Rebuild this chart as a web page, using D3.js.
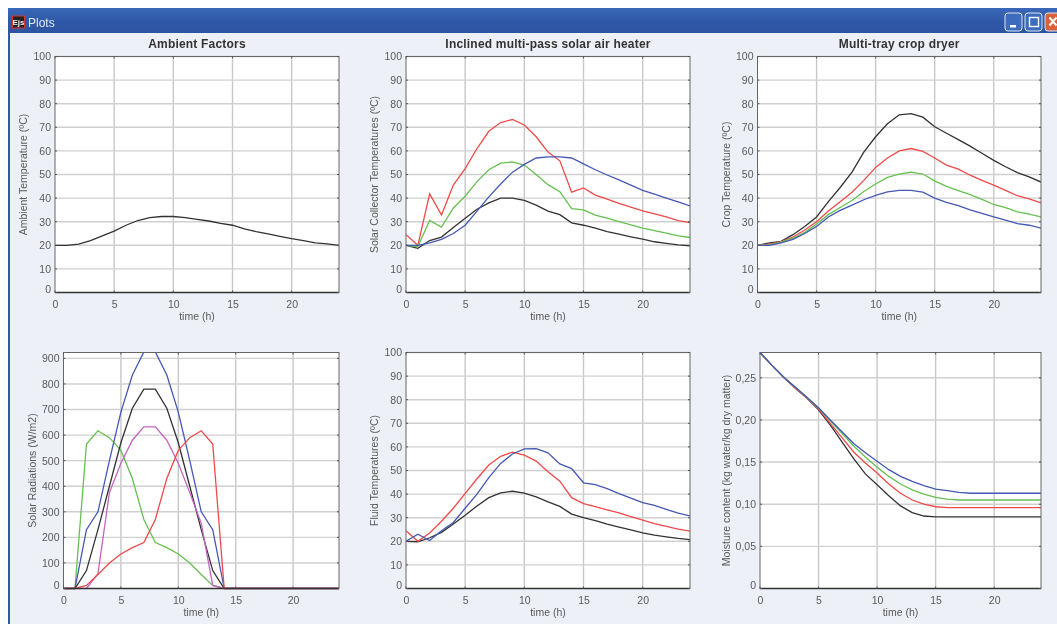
<!DOCTYPE html>
<html>
<head>
<meta charset="utf-8">
<title>Plots</title>
<script src="https://cdn.jsdelivr.net/npm/d3@7"></script>
<style>
  html, body { margin: 0; padding: 0; background: #fff; overflow: hidden; }
  text { font-family: "Liberation Sans", Arial, sans-serif; }
  .tick text, .ylabel, .xlabel { font-size: 10.5px; fill: #5a5a5a; }
  .title { font-size: 12px; font-weight: bold; fill: #333; letter-spacing: 0.2px; }
</style>
</head>
<body>
<svg id="chart" width="1057" height="624"></svg>
<script>
const hours = d3.range(0, 25);
const tempTicks = d3.range(0, 101, 10);
const hourTicks = [0, 5, 10, 15, 20];
const radiationTicks = d3.range(0, 901, 100);
const moistureTicks = [0, 0.05, 0.1, 0.15, 0.2, 0.25];

const ambient = [20, 20, 20.5, 22, 24, 26, 28.5, 30.5, 31.7, 32.2, 32.2, 31.7, 31, 30.3, 29.3, 28.5, 27, 25.8, 24.8, 23.8, 22.8, 22, 21, 20.6, 20];

const collectorRed = [24.5, 20, 41.8, 32.8, 45.5, 52.5, 61, 68.3, 72, 73.3, 71, 66, 59.5, 55.8, 42.5, 44.3, 41.3, 39.6, 37.8, 36.2, 34.6, 33.3, 32, 30.5, 29.6];
const collectorGreen = [20, 19.5, 30.5, 27.7, 35.8, 40.8, 47, 52, 54.8, 55.3, 54, 50, 45.7, 42.7, 35.5, 35, 32.8, 31.5, 30, 28.7, 27.3, 26.2, 25.2, 24, 23.3];
const collectorBlue = [20, 20, 21, 22.5, 25, 28.5, 34.5, 40.5, 46, 51, 54.3, 57, 57.5, 57.5, 57, 54.5, 52, 49.8, 47.7, 45.5, 43.3, 41.7, 40, 38.4, 36.7];
const collectorBlack = [20, 18.7, 22, 23.5, 27.5, 31.5, 35.3, 38, 40, 40, 39, 37, 34.5, 33, 29.5, 28.5, 27.3, 25.8, 24.7, 23.6, 22.6, 21.5, 20.8, 20.2, 19.8];

const cropBlack = [20, 21, 21.7, 24.5, 28, 32, 38.5, 44.5, 51, 59.5, 66, 71.5, 75.3, 75.8, 74.3, 70.2, 67.5, 64.8, 62, 59, 56, 53.3, 50.8, 49, 46.8];
const cropRed = [20, 20.5, 21.5, 23.5, 26.5, 30, 34.5, 38.5, 42.5, 47.5, 53, 57, 60, 61, 59.8, 57, 54, 52.3, 49.7, 47.5, 45.5, 43.3, 41, 39.7, 38];
const cropGreen = [20, 20.2, 21.3, 23, 25.5, 29, 33, 36, 39, 42.8, 46, 48.8, 50.2, 51, 50.2, 47.3, 45, 43.2, 41.5, 39.5, 37.3, 36, 34.2, 33.2, 32];
const cropBlue = [20, 20, 21, 22.5, 25, 28, 32, 34.8, 37, 39.3, 41.2, 42.6, 43.3, 43.3, 42.5, 40, 38.2, 36.8, 35, 33.5, 32, 30.7, 29.2, 28.5, 27.3];

const radGreen = [0, 0, 565, 617, 590, 540, 430, 270, 180, 160, 135, 100, 55, 12, 0, 0, 0, 0, 0, 0, 0, 0, 0, 0, 0];
const radBlue = [0, 0, 230, 300, 500, 690, 835, 925, 925, 835, 690, 500, 300, 230, 0, 0, 0, 0, 0, 0, 0, 0, 0, 0, 0];
const radBlack = [0, 0, 70, 230, 400, 570, 705, 780, 780, 705, 570, 400, 230, 70, 0, 0, 0, 0, 0, 0, 0, 0, 0, 0, 0];
const radMagenta = [0, 0, 0, 58, 375, 490, 580, 632, 632, 580, 490, 375, 255, 12, 0, 0, 0, 0, 0, 0, 0, 0, 0, 0, 0];
const radRed = [0, 0, 12, 55, 100, 135, 160, 180, 270, 430, 540, 590, 617, 565, 0, 0, 0, 0, 0, 0, 0, 0, 0, 0, 0];

const fluidRed = [24.5, 20, 23.5, 28.5, 34, 40.3, 46.5, 52.3, 56, 57.8, 56.5, 54, 49.5, 45.5, 38.5, 36, 34.7, 33.3, 32, 30.5, 29, 27.5, 26.3, 25.2, 24.3];
const fluidBlue = [20, 23, 20.3, 24.5, 28, 34, 40, 47, 53, 57, 59.2, 59.3, 57.5, 52.8, 50.8, 44.8, 44, 42.3, 40.2, 38.3, 36.4, 35.2, 33.5, 31.9, 30.8];
const fluidBlack = [20, 19.8, 21.5, 23.8, 27.3, 31, 35, 38.5, 40.5, 41.2, 40.4, 38.8, 36.7, 34.8, 31.5, 30, 28.8, 27.3, 26, 24.8, 23.6, 22.6, 21.9, 21.2, 20.7];

const moistBlack = [0.28, 0.265, 0.251, 0.238, 0.226, 0.212, 0.194, 0.174, 0.154, 0.136, 0.123, 0.11, 0.098, 0.09, 0.086, 0.085, 0.085, 0.085, 0.085, 0.085, 0.085, 0.085, 0.085, 0.085, 0.085];
const moistRed = [0.28, 0.265, 0.251, 0.238, 0.226, 0.213, 0.196, 0.179, 0.162, 0.149, 0.137, 0.124, 0.113, 0.105, 0.1, 0.097, 0.096, 0.096, 0.096, 0.096, 0.096, 0.096, 0.096, 0.096, 0.096];
const moistGreen = [0.28, 0.265, 0.251, 0.239, 0.227, 0.214, 0.199, 0.184, 0.169, 0.156, 0.144, 0.133, 0.124, 0.117, 0.112, 0.108, 0.106, 0.105, 0.105, 0.105, 0.105, 0.105, 0.105, 0.105, 0.105];
const moistBlue = [0.28, 0.265, 0.251, 0.239, 0.227, 0.2145, 0.2, 0.186, 0.172, 0.161, 0.151, 0.141, 0.133, 0.127, 0.122, 0.118, 0.116, 0.114, 0.113, 0.113, 0.113, 0.113, 0.113, 0.113, 0.113];

const RED = "#f04a4a", GREEN = "#66c050", BLUE = "#4558b4", BLACK = "#333", MAGENTA = "#c265c0";

const panels = [
  { left: 55, right: 339, top: 56.5, bottom: 292.5, title: "Ambient Factors", yLabel: "Ambient Temperature (ºC)", yLabelX: 23, yMax: 100, yTicks: tempTicks,
    series: [[ambient, BLACK]] },
  { left: 406, right: 690, top: 56.5, bottom: 292.5, title: "Inclined multi-pass solar air heater", yLabel: "Solar Collector Temperatures (ºC)", yLabelX: 374, yMax: 100, yTicks: tempTicks,
    series: [[collectorBlack, BLACK], [collectorRed, RED], [collectorGreen, GREEN], [collectorBlue, BLUE]] },
  { left: 757.5, right: 1041, top: 56.5, bottom: 292.5, title: "Multi-tray crop dryer", yLabel: "Crop Temperature (ºC)", yLabelX: 726, yMax: 100, yTicks: tempTicks,
    series: [[cropBlack, BLACK], [cropRed, RED], [cropGreen, GREEN], [cropBlue, BLUE]] },
  { left: 63.5, right: 339, top: 352.5, bottom: 588.5, yLabel: "Solar Radiations (W/m2)", yLabelX: 32, yMax: 923, yTicks: radiationTicks,
    series: [[radGreen, GREEN], [radBlue, BLUE], [radBlack, BLACK], [radMagenta, MAGENTA], [radRed, RED]] },
  { left: 406, right: 690, top: 352.5, bottom: 588.5, yLabel: "Fluid Temperatures (ºC)", yLabelX: 374, yMax: 100, yTicks: tempTicks,
    series: [[fluidBlack, BLACK], [fluidRed, RED], [fluidBlue, BLUE]] },
  { left: 760, right: 1041, top: 352.5, bottom: 588.5, yLabel: "Moisture content (kg water/kg dry matter)", yLabelX: 726, yMax: 0.28, yTicks: moistureTicks,
    yFormat: d => d === 0 ? "0" : d3.format(".2f")(d).replace(".", ","),
    series: [[moistBlack, BLACK], [moistRed, RED], [moistGreen, GREEN], [moistBlue, BLUE]] }
];

const svg = d3.select("#chart");

const defs = svg.append("defs");
defs.append("filter").attr("id", "soft")
  .attr("x", 0).attr("y", 0).attr("width", 1057).attr("height", 624)
  .attr("filterUnits", "userSpaceOnUse")
  .append("feGaussianBlur").attr("stdDeviation", 0.45);
const barGrad = defs.append("linearGradient").attr("id", "bar").attr("x2", 0).attr("y2", 1);
barGrad.append("stop").attr("offset", 0).attr("stop-color", "#3a68b8");
barGrad.append("stop").attr("offset", 0.5).attr("stop-color", "#2f59a8");
barGrad.append("stop").attr("offset", 1).attr("stop-color", "#2c55a2");

const root = svg.append("g").attr("filter", "url(#soft)");

// window frame
root.append("rect").attr("x", 8).attr("y", 8).attr("width", 1049).attr("height", 616).attr("fill", "#eef0f7");
root.append("rect").attr("x", 8).attr("y", 8).attr("width", 2).attr("height", 616).attr("fill", "#2f59a8");
root.append("rect").attr("x", 8).attr("y", 8).attr("width", 1049).attr("height", 25).attr("fill", "url(#bar)");

// title bar icon and caption
root.append("rect").attr("x", 12.5).attr("y", 16).attr("width", 12).attr("height", 12).attr("fill", "#222").attr("stroke", "#d33");
root.append("text").attr("x", 18.5).attr("y", 25).attr("text-anchor", "middle")
  .style("font-size", "8px").style("font-weight", "bold").attr("fill", "#eee").text("Ejs");
root.append("text").attr("x", 28).attr("y", 27).style("font-size", "12px").attr("fill", "#dfe8f8").text("Plots");

// window buttons
[[1005, "#3e6cbd"], [1025, "#3e6cbd"], [1045, "#d9623a"]].forEach(([x, c]) => {
  root.append("rect").attr("x", x).attr("y", 13).attr("width", 17).attr("height", 18).attr("rx", 3)
    .attr("fill", c).attr("stroke", "#dce6f6");
});
root.append("rect").attr("x", 1010).attr("y", 25).attr("width", 6).attr("height", 2.5).attr("fill", "#fff");
root.append("rect").attr("x", 1029.5).attr("y", 17.5).attr("width", 9).attr("height", 9).attr("fill", "none").attr("stroke", "#fff").attr("stroke-width", 1.4);
root.append("path").attr("d", "M1049.5 17.5L1056.5 25.5M1056.5 17.5L1049.5 25.5").attr("stroke", "#fff").attr("stroke-width", 2);

const lineClipIds = panels.map((p, i) => `clip${i}`);

panels.forEach((p, i) => {
  const x = d3.scaleLinear().domain([0, 24]).range([p.left, p.right]);
  const y = d3.scaleLinear().domain([0, p.yMax]).range([p.bottom, p.top]);
  const g = root.append("g");

  g.append("rect").attr("x", p.left).attr("y", p.top)
    .attr("width", p.right - p.left).attr("height", p.bottom - p.top).attr("fill", "#fff");

  // grid
  g.append("g").selectAll("line").data(hourTicks.slice(1)).join("line")
    .attr("x1", d => x(d)).attr("x2", d => x(d)).attr("y1", p.top).attr("y2", p.bottom)
    .attr("stroke", "#c8c8c8").attr("stroke-width", 1.4);
  g.append("g").selectAll("line").data(p.yTicks.filter(d => d > 0)).join("line")
    .attr("x1", p.left).attr("x2", p.right).attr("y1", d => y(d)).attr("y2", d => y(d))
    .attr("stroke", "#d0d0d0").attr("stroke-width", 1.4);

  defs.append("clipPath").attr("id", lineClipIds[i]).append("rect")
    .attr("x", p.left).attr("y", p.top).attr("width", p.right - p.left).attr("height", p.bottom - p.top + 1);

  // curves
  const line = d3.line().x((d, j) => x(hours[j])).y(d => y(d));
  g.append("g").attr("clip-path", `url(#${lineClipIds[i]})`)
    .selectAll("path").data(p.series).join("path")
    .attr("d", d => line(d[0])).attr("fill", "none").attr("stroke", d => d[1]).attr("stroke-width", 1.3);

  // frame
  g.append("rect").attr("x", p.left).attr("y", p.top)
    .attr("width", p.right - p.left).attr("height", p.bottom - p.top)
    .attr("fill", "none").attr("stroke", "#666").attr("stroke-width", 1);
  g.append("line").attr("x1", p.left).attr("x2", p.right).attr("y1", p.bottom).attr("y2", p.bottom)
    .attr("stroke", "#333").attr("stroke-width", 1.6);

  // axes
  const xAxis = d3.axisBottom(x).tickValues(hourTicks).tickSize(0).tickPadding(8).tickFormat(d3.format("d"));
  const gx = g.append("g").attr("transform", `translate(0,${p.bottom})`).call(xAxis);
  gx.select(".domain").remove();
  gx.selectAll(".tick text").attr("font-family", null).attr("font-size", null);

  const yAxis = d3.axisLeft(y).tickValues(p.yTicks).tickSize(0).tickPadding(4)
    .tickFormat(p.yFormat || d3.format("d"));
  const gy = g.append("g").attr("transform", `translate(${p.left},0)`).call(yAxis);
  gy.select(".domain").remove();
  gy.selectAll(".tick text").attr("dy", d => d === 0 ? "-0.02em" : "0.32em");

  // little inner ticks on the frame
  const ticks = g.append("g").attr("stroke", "#555");
  ticks.selectAll(".l").data(p.yTicks).join("line").attr("class", "l")
    .attr("x1", p.left).attr("x2", p.left + 2).attr("y1", d => y(d)).attr("y2", d => y(d));
  ticks.selectAll(".r").data(p.yTicks).join("line").attr("class", "r")
    .attr("x1", p.right - 2).attr("x2", p.right).attr("y1", d => y(d)).attr("y2", d => y(d));
  ticks.selectAll(".t").data(hourTicks).join("line").attr("class", "t")
    .attr("x1", d => x(d)).attr("x2", d => x(d)).attr("y1", p.top).attr("y2", p.top + 2);
  ticks.selectAll(".b").data(hourTicks).join("line").attr("class", "b")
    .attr("x1", d => x(d)).attr("x2", d => x(d)).attr("y1", p.bottom - 2).attr("y2", p.bottom);

  // labels
  g.append("text").attr("class", "xlabel")
    .attr("x", (p.left + p.right) / 2).attr("y", p.bottom + 27.5)
    .attr("text-anchor", "middle").text("time (h)");
  g.append("text").attr("class", "ylabel")
    .attr("transform", `translate(${p.yLabelX},${(p.top + p.bottom) / 2}) rotate(-90)`)
    .attr("dy", "0.35em").attr("text-anchor", "middle").text(p.yLabel);
  if (p.title) {
    g.append("text").attr("class", "title")
      .attr("x", (p.left + p.right) / 2).attr("y", 48)
      .attr("text-anchor", "middle").text(p.title);
  }
});
</script>
</body>
</html>
